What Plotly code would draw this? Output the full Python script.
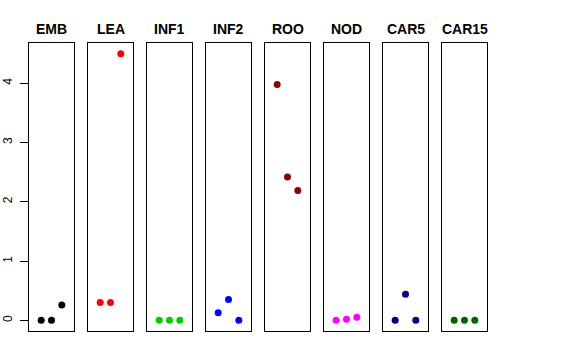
import plotly.graph_objects as go

categories = ["EMB", "LEA", "INF1", "INF2", "ROO", "NOD", "CAR5", "CAR15"]
colors = ["#000000", "#FF0000", "#00CD00", "#0000FF", "#8B0000", "#FF00FF", "#000080", "#006400"]
rep_x = [1, 2, 3]
values = {
    "EMB": [0.0, 0.0, 0.26],
    "LEA": [0.30, 0.30, 4.50],
    "INF1": [0.0, 0.0, 0.0],
    "INF2": [0.13, 0.35, 0.0],
    "ROO": [3.98, 2.42, 2.19],
    "NOD": [0.0, 0.02, 0.05],
    "CAR5": [0.0, 0.44, 0.0],
    "CAR15": [0.0, 0.0, 0.0],
}
y_ticks = [0, 1, 2, 3, 4]

W, H = 576, 360
left0, pw, step = 29, 45, 59
top, bottom = 43, 331
ydom = [(H - bottom) / H, (H - top) / H]

fig = go.Figure()
layout = dict(width=W, height=H, margin=dict(l=0, r=0, t=0, b=0, autoexpand=False),
              plot_bgcolor="white", paper_bgcolor="white", showlegend=False,
              font=dict(family="Liberation Sans, Arial, sans-serif", color="black"))
annotations = []
for i, cat in enumerate(categories):
    n = "" if i == 0 else str(i + 1)
    xa, ya = "x" + n, "y" + n
    fig.add_trace(go.Scatter(x=rep_x, y=values[cat], mode="markers",
                             marker=dict(color=colors[i], size=7, line=dict(width=0)),
                             xaxis=xa, yaxis=ya, cliponaxis=False))
    x0 = (left0 + step * i) / W
    x1 = (left0 + step * i + pw) / W
    layout["xaxis" + n] = dict(domain=[x0, x1], range=[-0.18, 4.18], showgrid=False,
                               zeroline=False, showticklabels=False, ticks="",
                               showline=True, mirror=True, linecolor="black", linewidth=1,
                               anchor=ya, automargin=False)
    ydict = dict(domain=ydom, range=[-0.18, 4.68], showgrid=False, zeroline=False,
                 showline=True, mirror=True, linecolor="black", linewidth=1, anchor=xa,
                 automargin=False)
    if i == 0:
        ydict.update(tickvals=y_ticks, ticktext=[str(t) for t in y_ticks],
                     ticks="outside", ticklen=8, tickcolor="black", tickwidth=1,
                     tickangle=-90, tickfont=dict(size=12, color="black"),
                     ticklabelstandoff=3)
    else:
        ydict.update(showticklabels=False, ticks="")
    layout["yaxis" + n] = ydict
    annotations.append(dict(text="<b>" + cat + "</b>", x=(x0 + x1) / 2, y=(H - 29) / H,
                            xref="paper", yref="paper", showarrow=False,
                            xanchor="center", yanchor="middle",
                            font=dict(size=14, color="black")))
layout["annotations"] = annotations
fig.update_layout(**layout)
fig.write_html("out.html", config={"displayModeBar": False},
               post_script="document.body.style.margin='0';")
